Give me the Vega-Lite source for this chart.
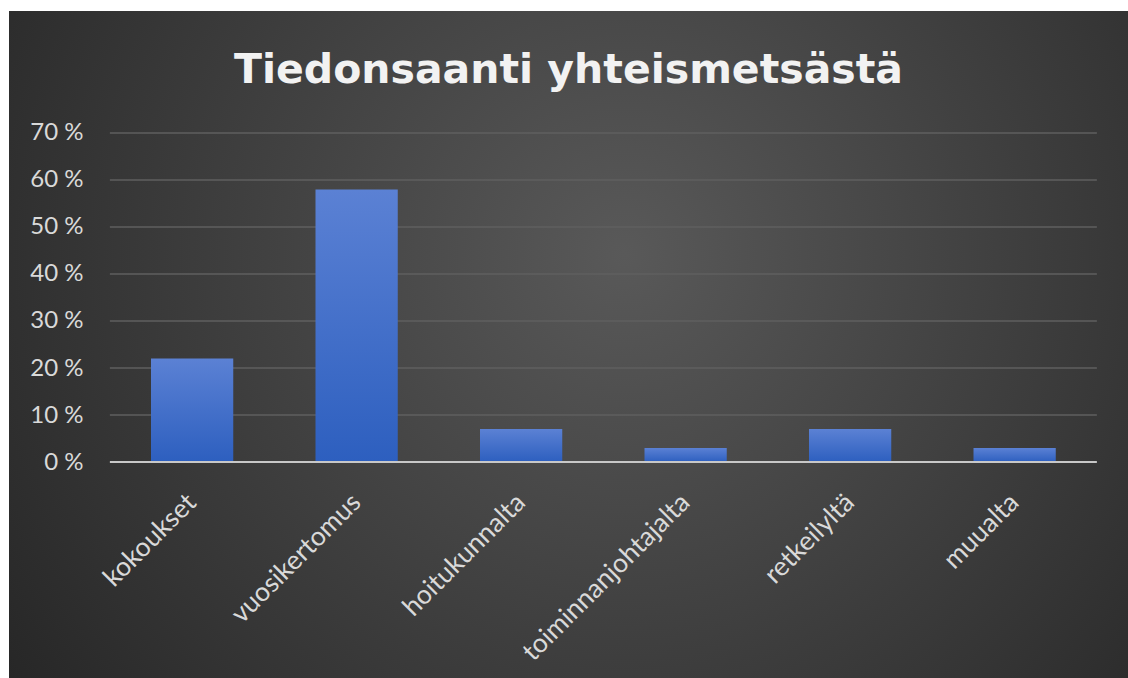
{
  "$schema": "https://vega.github.io/schema/vega-lite/v6.json",
  "width": 1119,
  "height": 667,
  "autosize": {"type": "none"},
  "padding": {"left": 9, "top": 11, "right": 0, "bottom": 0},
  "background": "#ffffff",
  "view": {
    "stroke": null,
    "fill": {
      "gradient": "radial",
      "x1": 0.55, "y1": 0.42, "r1": 0,
      "x2": 0.55, "y2": 0.42, "r2": 0.72,
      "stops": [
        {"offset": 0, "color": "#595959"},
        {"offset": 0.5, "color": "#3e3e3e"},
        {"offset": 1, "color": "#232323"}
      ]
    }
  },
  "title": {
    "text": "Tiedonsaanti yhteismetsästä",
    "font": "DejaVu Sans",
    "fontSize": 41,
    "fontWeight": "bold",
    "color": "#f2f2f2",
    "anchor": "middle",
    "baseline": "alphabetic",
    "offset": -113
  },
  "layer": [
    {
      "data": {"values": [
        {"v": 0.1, "a": "kokoukset", "b": "muualta"},
        {"v": 0.2, "a": "kokoukset", "b": "muualta"},
        {"v": 0.3, "a": "kokoukset", "b": "muualta"},
        {"v": 0.4, "a": "kokoukset", "b": "muualta"},
        {"v": 0.5, "a": "kokoukset", "b": "muualta"},
        {"v": 0.6, "a": "kokoukset", "b": "muualta"},
        {"v": 0.7, "a": "kokoukset", "b": "muualta"}
      ]},
      "mark": {"type": "rule", "color": "#5f5f5f", "strokeWidth": 1.5},
      "encoding": {
        "x": {
          "field": "a", "type": "nominal", "bandPosition": -0.5,
          "scale": {
            "domain": ["kokoukset", "vuosikertomus", "hoitukunnalta", "toiminnanjohtajalta", "retkeilyltä", "muualta"],
            "paddingInner": 0.5,
            "paddingOuter": 0.6512,
            "align": 0.6628
          },
          "axis": {
            "title": null, "orient": "bottom", "offset": -216, "domain": false, "ticks": false, "tickSize": 0,
            "labelAngle": -45, "labelAlign": "right", "labelBaseline": "middle", "labelPadding": 36,
            "labelFont": "Lato", "labelFontSize": 26.5, "labelColor": "#d9d9d9", "labelLimit": 0,
            "labelOverlap": false, "labelBound": false, "labelFlush": false, "grid": false
          }
        },
        "x2": {"field": "b", "bandPosition": 1.5},
        "y": {
          "field": "v", "type": "quantitative",
          "scale": {"domain": [-0.45957, 0.95957], "nice": false, "zero": false},
          "axis": {
            "title": null, "orient": "left", "offset": -74,
            "values": [0, 0.1, 0.2, 0.3, 0.4, 0.5, 0.6, 0.7],
            "format": ".0%", "labelExpr": "replace(datum.label, '%', ' %')",
            "domain": false, "ticks": false, "tickSize": 0, "labelPadding": 0,
            "labelFont": "Lato", "labelFontSize": 24, "labelColor": "#d9d9d9",
            "labelOverlap": false, "labelBound": false, "labelFlush": false, "grid": false
          }
        }
      }
    },
    {
      "data": {"values": [
        {"kategoria": "kokoukset", "osuus": 0.22},
        {"kategoria": "vuosikertomus", "osuus": 0.58},
        {"kategoria": "hoitukunnalta", "osuus": 0.07},
        {"kategoria": "toiminnanjohtajalta", "osuus": 0.03},
        {"kategoria": "retkeilyltä", "osuus": 0.07},
        {"kategoria": "muualta", "osuus": 0.03}
      ]},
      "mark": {
        "type": "bar",
        "fill": {
          "gradient": "linear",
          "x1": 0, "y1": 0, "x2": 0, "y2": 1,
          "stops": [
            {"offset": 0, "color": "#5b81d4"},
            {"offset": 1, "color": "#2d5fbf"}
          ]
        }
      },
      "encoding": {
        "x": {
          "field": "kategoria", "type": "nominal",
          "axis": {
            "title": null, "orient": "bottom", "offset": -216, "domain": false, "ticks": false, "tickSize": 0,
            "labelAngle": -45, "labelAlign": "right", "labelBaseline": "middle", "labelPadding": 36,
            "labelFont": "Lato", "labelFontSize": 26.5, "labelColor": "#d9d9d9", "labelLimit": 0,
            "labelOverlap": false, "labelBound": false, "labelFlush": false, "grid": false
          }
        },
        "y": {
          "field": "osuus", "type": "quantitative",
          "axis": {
            "title": null, "orient": "left", "offset": -74,
            "values": [0, 0.1, 0.2, 0.3, 0.4, 0.5, 0.6, 0.7],
            "format": ".0%", "labelExpr": "replace(datum.label, '%', ' %')",
            "domain": false, "ticks": false, "tickSize": 0, "labelPadding": 0,
            "labelFont": "Lato", "labelFontSize": 24, "labelColor": "#d9d9d9",
            "labelOverlap": false, "labelBound": false, "labelFlush": false, "grid": false
          }
        }
      }
    },
    {
      "data": {"values": [
        {"v": 0, "a": "kokoukset", "b": "muualta"}
      ]},
      "mark": {"type": "rule", "color": "#c8c8c8", "strokeWidth": 2.2},
      "encoding": {
        "x": {
          "field": "a", "type": "nominal", "bandPosition": -0.5,
          "axis": {
            "title": null, "orient": "bottom", "offset": -216, "domain": false, "ticks": false, "tickSize": 0,
            "labelAngle": -45, "labelAlign": "right", "labelBaseline": "middle", "labelPadding": 36,
            "labelFont": "Lato", "labelFontSize": 26.5, "labelColor": "#d9d9d9", "labelLimit": 0,
            "labelOverlap": false, "labelBound": false, "labelFlush": false, "grid": false
          }
        },
        "x2": {"field": "b", "bandPosition": 1.5},
        "y": {
          "field": "v", "type": "quantitative",
          "axis": {
            "title": null, "orient": "left", "offset": -74,
            "values": [0, 0.1, 0.2, 0.3, 0.4, 0.5, 0.6, 0.7],
            "format": ".0%", "labelExpr": "replace(datum.label, '%', ' %')",
            "domain": false, "ticks": false, "tickSize": 0, "labelPadding": 0,
            "labelFont": "Lato", "labelFontSize": 24, "labelColor": "#d9d9d9",
            "labelOverlap": false, "labelBound": false, "labelFlush": false, "grid": false
          }
        }
      }
    }
  ]
}
